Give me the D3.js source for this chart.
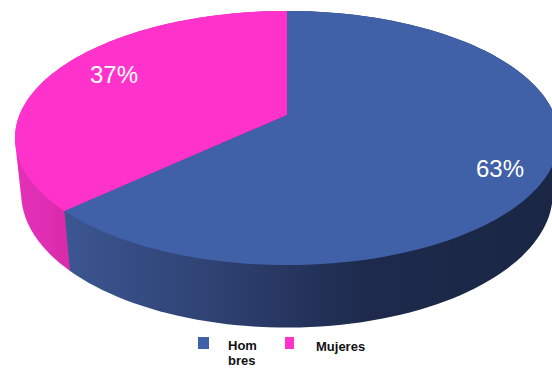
<!DOCTYPE html>
<html>
<head>
<meta charset="utf-8">
<script src="https://cdn.jsdelivr.net/npm/d3@7"></script>
<style>
html,body{margin:0;padding:0;background:#fff;overflow:hidden}
svg{display:block}
text{font-family:"Liberation Sans",Arial,sans-serif}
</style>
</head>
<body>
<svg id="chart" width="552" height="368"></svg>
<script>
// Share of respondents by sex
const categories = ["Hombres", "Mujeres"];
const values = [63, 37];
const legendLines = [["Hom", "bres"], ["Mujeres"]];
const topColors = ["#4061a8", "#ff33cc"];

// Perspective disc: screen position of a point on the unit disc at a given drop
const view = {cx: 287, cy: 115, a: 267.5, b: 122.9, k: 0.181, depth: 56, shrink: 0.0226};
function project(u, v, h) {
  const w = 1 - view.k * v + view.shrink * h;
  return [view.cx + view.a * u / w, view.cy + (view.b * v + view.depth * h) / w];
}
const rim = (angle, h) => project(Math.sin(angle), -Math.cos(angle), h);

const slices = d3.pie().sort(null)(values);
const svg = d3.select("#chart");
const line = d3.line();
const sweep = (s, e) => d3.range(0, 121).map(i => s + (e - s) * i / 120);

// Wall shading runs from left to right across each slice
const defs = svg.append("defs");
const wallStops = [
  [[0, "#3b5691"], [0.3, "#2f4273"], [0.62, "#1d2a4c"], [1, "#1a2644"]],
  [[0, "#d82aa8"], [0.5, "#e02eb4"], [1, "#e231b8"]]
];
const wallSpan = [[65, 552], [70, 15]];
wallStops.forEach((stops, i) => {
  const g = defs.append("linearGradient")
    .attr("id", "wall" + i)
    .attr("gradientUnits", "userSpaceOnUse")
    .attr("x1", wallSpan[i][0]).attr("x2", wallSpan[i][1])
    .attr("y1", 0).attr("y2", 0);
  stops.forEach(([o, c]) => g.append("stop").attr("offset", o).attr("stop-color", c));
});

// Outer walls as the hull of both rims, back slice first, then the top faces
slices.slice().reverse().forEach(d => {
  const arc = sweep(d.startAngle, d.endAngle);
  const hull = d3.polygonHull(arc.map(t => rim(t, 0)).concat(arc.map(t => rim(t, 1))));
  svg.append("path").attr("d", line(hull) + "Z").attr("fill", `url(#wall${d.index})`);
});
slices.forEach((d, i) => {
  const arc = sweep(d.startAngle, d.endAngle);
  const outline = [project(0, 0, 0)].concat(arc.map(t => rim(t, 0)));
  svg.append("path").attr("d", line(outline) + "Z").attr("fill", topColors[i]);
});

// Percentage labels
const labelPos = [[500, 168], [114, 74]];
slices.forEach((d, i) => {
  svg.append("text")
    .attr("x", labelPos[i][0]).attr("y", labelPos[i][1])
    .attr("text-anchor", "middle").attr("dominant-baseline", "central")
    .attr("font-size", 24).attr("fill", "#fff")
    .text(d3.format(".0f")(d.value) + "%");
});

// Legend
const swatches = [[198, 337, 11, 12], [285, 337, 9, 12]];
const legendText = [[228, 350], [316, 351]];
categories.forEach((c, i) => {
  const g = svg.append("g").attr("class", "legend-item").attr("data-name", c);
  const [x, y, w, h] = swatches[i];
  g.append("rect").attr("x", x).attr("y", y).attr("width", w).attr("height", h).attr("fill", topColors[i]);
  const t = g.append("text").attr("font-size", 13).attr("font-weight", "bold").attr("fill", "#111");
  legendLines[i].forEach((s, j) => {
    t.append("tspan").attr("x", legendText[i][0]).attr("y", legendText[i][1] + j * 15).text(s);
  });
});
</script>
</body>
</html>
